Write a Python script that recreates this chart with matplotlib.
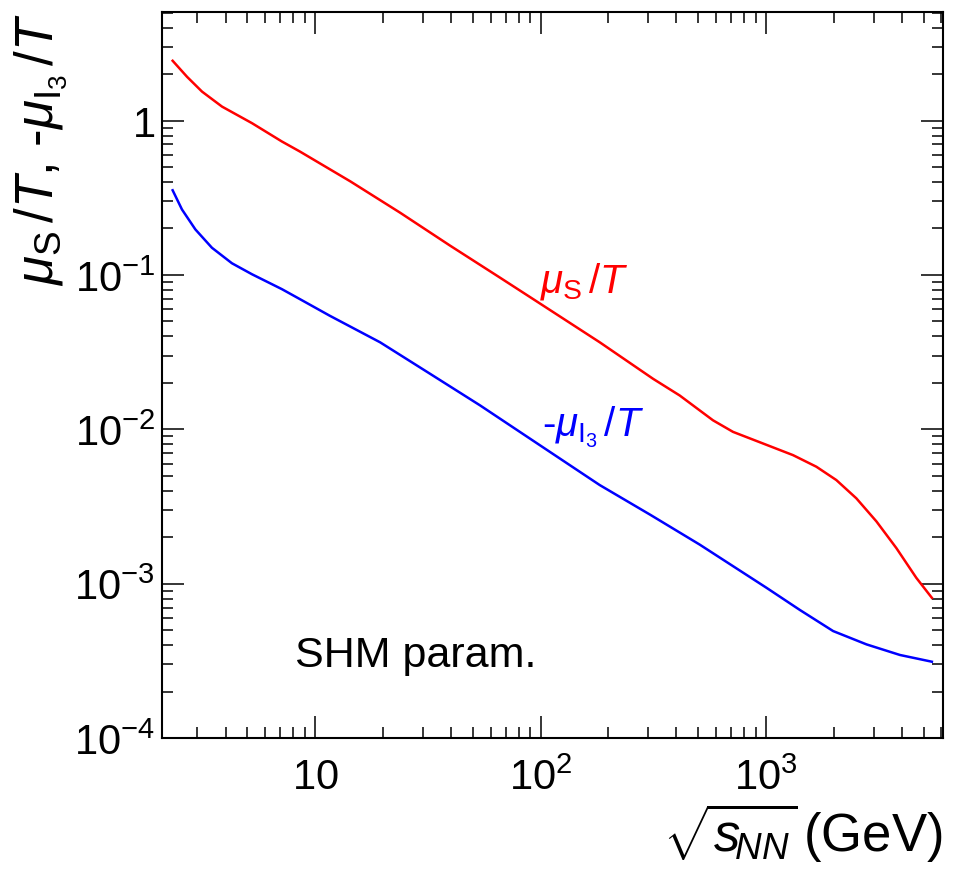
import matplotlib
matplotlib.use("Agg")
import matplotlib.pyplot as plt
from matplotlib.ticker import LogLocator, FixedLocator, FixedFormatter, NullFormatter

plt.rcParams['font.family'] = ['Liberation Sans', 'DejaVu Sans']
plt.rcParams['mathtext.fontset'] = 'custom'
plt.rcParams['mathtext.rm'] = 'Liberation Sans'
plt.rcParams['mathtext.it'] = 'Liberation Sans:italic'
plt.rcParams['mathtext.bf'] = 'Liberation Sans:bold'

# Data
sqrt_s_red = [2.33, 2.70, 3.146, 3.86, 5.24, 7.11, 8.55, 14.3, 23.8, 39.6, 65.9, 92.7, 183,
              316, 414, 582, 714, 970, 1318, 1673, 2051, 2517, 3090, 3787, 4645, 5445]
mu_s_over_T = [2.44, 1.92, 1.54, 1.231, 0.962, 0.732, 0.63, 0.404, 0.253, 0.155, 0.0962,
               0.0697, 0.0366, 0.0212, 0.01656, 0.01143, 0.00962, 0.00809, 0.0068, 0.00572,
               0.00469, 0.00357, 0.00253, 0.0017, 0.00109, 0.000809]

sqrt_s_blue = [2.33, 2.563, 2.94, 3.48, 4.27, 5.24, 7.11, 8.55, 11.6, 19.4, 32.3, 53.8, 99.3,
               165, 183, 307, 508, 1005, 1414, 1985, 2793, 3930, 5445]
mu_i3_over_T = [0.3535, 0.2654, 0.197, 0.150, 0.119, 0.101, 0.0809, 0.0697, 0.0544, 0.0366,
                0.0229, 0.0143, 0.00788, 0.00481, 0.00435, 0.00279, 0.00179, 9.4e-4,
                6.75e-4, 4.93e-4, 4.04e-4, 3.45e-4, 3.12e-4]

x_major = [10, 100, 1000]
x_major_labels = [r'$\mathregular{10}$', r'$\mathregular{10^{2}}$', r'$\mathregular{10^{3}}$']
y_major = [1e-4, 1e-3, 1e-2, 1e-1, 1]
y_major_labels = [r'$\mathregular{10^{-4}}$', r'$\mathregular{10^{-3}}$',
                  r'$\mathregular{10^{-2}}$', r'$\mathregular{10^{-1}}$', r'$\mathregular{1}$']

fig = plt.figure(figsize=(9.66, 8.70), dpi=100)
ax = fig.add_axes([162/966, 1-739/870, (943-162)/966, (739-13)/870])

ax.plot(sqrt_s_red, mu_s_over_T, color='#ff0000', lw=1.8)
ax.plot(sqrt_s_blue, mu_i3_over_T, color='#0000ff', lw=1.8)

ax.set_xscale('log')
ax.set_yscale('log')
ax.set_xlim(2.09, 6100)
ax.set_ylim(1e-4, 5.05)

ax.xaxis.set_major_locator(FixedLocator(x_major))
ax.xaxis.set_major_formatter(FixedFormatter(x_major_labels))
ax.xaxis.set_minor_locator(LogLocator(base=10, subs=range(2, 10), numticks=20))
ax.xaxis.set_minor_formatter(NullFormatter())
ax.yaxis.set_major_locator(FixedLocator(y_major))
ax.yaxis.set_major_formatter(FixedFormatter(y_major_labels))
ax.yaxis.set_minor_locator(LogLocator(base=10, subs=range(2, 10), numticks=20))
ax.yaxis.set_minor_formatter(NullFormatter())

ax.tick_params(which='both', direction='in', top=True, right=True, width=1.1, colors='#000000')
ax.tick_params(which='major', length=16)
ax.tick_params(which='minor', length=8)
ax.tick_params(axis='x', which='major', labelsize=30, pad=14)
ax.tick_params(axis='y', which='major', labelsize=30, pad=5)
for s in ax.spines.values():
    s.set_linewidth(1.5)

ax.set_xlabel(r'$\sqrt{s_{\!NN}}\!$ (GeV)', fontsize=38, loc='right', labelpad=2)
ax.set_ylabel(r'$\mu_{\mathrm{S}}\,/T$, -$\mu_{\mathrm{I}_{3}}\,/T$', fontsize=38, loc='top', labelpad=4)

fig.text(540/966, 1-292/870, r'$\mu_{\mathrm{S}}\,/T$', color='#ff0000', fontsize=29,
         va='baseline', ha='left')
fig.text(542/966, 1-437/870, r'-$\mu_{\mathrm{I}_{3}}\,/T$', color='#0000ff', fontsize=29,
         va='baseline', ha='left')
fig.text(295/966, 1-667/870, 'SHM param.', color='#000000', fontsize=31, va='baseline', ha='left')

fig.savefig('out.png', dpi=100)
